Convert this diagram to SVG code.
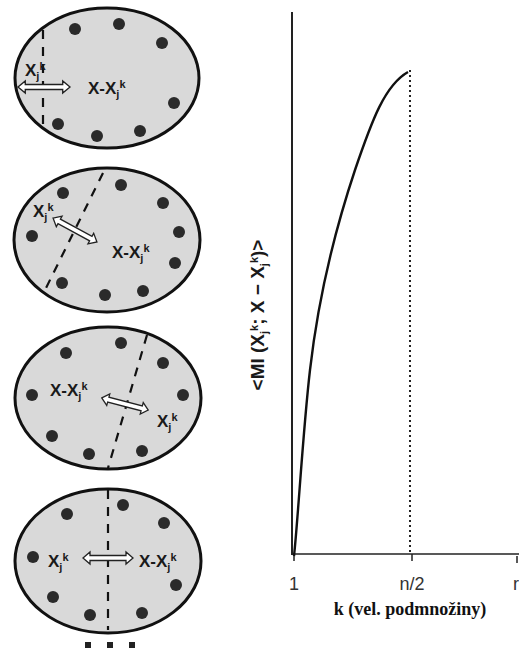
<svg xmlns="http://www.w3.org/2000/svg" width="519" height="654" viewBox="0 0 519 654">
<style>
.set{fill:#d9d9d9;stroke:#111;stroke-width:3}
.dot{fill:#2a2a2a}
.cut{fill:none;stroke:#111;stroke-width:2.2;stroke-dasharray:9,8}
.arr{fill:#fff;stroke:#222;stroke-width:1.3;stroke-linejoin:miter}
.lbl{font-family:"Liberation Sans",Arial,sans-serif;font-size:17px;font-weight:bold;fill:#1a1a1a}
.sm{font-size:11px;fill:#1a1a1a}
.axis{stroke:#222;fill:none}
.tick{font-family:"Liberation Sans",Arial,sans-serif;font-size:18px;fill:#333}
.xl{font-family:"Liberation Serif","Times New Roman",serif;font-size:18px;font-weight:bold;fill:#111}
.yl{font-family:"Liberation Sans",Arial,sans-serif;font-size:19px;font-weight:bold;fill:#1a1a1a}
</style>
<defs>
<path id="darr" d="M-25,0 L-18,-6 L-18,-2.5 L18,-2.5 L18,-6 L25,0 L18,6 L18,2.5 L-18,2.5 L-18,6 Z"/>
</defs>
<rect width="519" height="654" fill="#fff"/>

<g id="set1">
<ellipse class="set" cx="107" cy="78" rx="92" ry="70"/>
<circle class="dot" cx="75" cy="29" r="6"/>
<circle class="dot" cx="119" cy="24" r="6"/>
<circle class="dot" cx="162" cy="43" r="6"/>
<circle class="dot" cx="174" cy="103" r="6"/>
<circle class="dot" cx="140" cy="131" r="6"/>
<circle class="dot" cx="97" cy="136" r="6"/>
<circle class="dot" cx="58" cy="124" r="6"/>
<line class="cut" x1="43" y1="30" x2="43" y2="125"/>
<use href="#darr" class="arr" transform="translate(44,87) scale(1.04,1)"/>
<text class="lbl" x="25" y="76">X<tspan class="sm" dy="4">j</tspan><tspan class="sm" dy="-10">k</tspan></text>
<text class="lbl" x="88" y="94">X-X<tspan class="sm" dy="4">j</tspan><tspan class="sm" dy="-10">k</tspan></text>
</g>

<g id="set2">
<ellipse class="set" cx="107" cy="240" rx="93" ry="72"/>
<circle class="dot" cx="63" cy="193" r="6"/>
<circle class="dot" cx="121" cy="185" r="6"/>
<circle class="dot" cx="163" cy="203" r="6"/>
<circle class="dot" cx="179" cy="232" r="6"/>
<circle class="dot" cx="175" cy="263" r="6"/>
<circle class="dot" cx="143" cy="291" r="6"/>
<circle class="dot" cx="105" cy="295" r="6"/>
<circle class="dot" cx="62" cy="283" r="6"/>
<circle class="dot" cx="32" cy="236" r="6"/>
<line class="cut" x1="103" y1="173" x2="45" y2="290"/>
<use href="#darr" class="arr" transform="translate(75,230) rotate(28.6)"/>
<text class="lbl" x="33" y="217">X<tspan class="sm" dy="4">j</tspan><tspan class="sm" dy="-10">k</tspan></text>
<text class="lbl" x="112" y="258">X-X<tspan class="sm" dy="4">j</tspan><tspan class="sm" dy="-10">k</tspan></text>
</g>

<g id="set3">
<ellipse class="set" cx="108" cy="398" rx="93" ry="71"/>
<circle class="dot" cx="66" cy="353" r="6"/>
<circle class="dot" cx="121" cy="343" r="6"/>
<circle class="dot" cx="163" cy="363" r="6"/>
<circle class="dot" cx="183" cy="395" r="6"/>
<circle class="dot" cx="142" cy="451" r="6"/>
<circle class="dot" cx="89" cy="454" r="6"/>
<circle class="dot" cx="52" cy="436" r="6"/>
<circle class="dot" cx="32" cy="395" r="6"/>
<line class="cut" x1="147" y1="335" x2="108" y2="468"/>
<use href="#darr" class="arr" transform="translate(125,404) rotate(14.6) scale(0.96,1)"/>
<text class="lbl" x="50" y="396">X-X<tspan class="sm" dy="4">j</tspan><tspan class="sm" dy="-10">k</tspan></text>
<text class="lbl" x="157" y="427">X<tspan class="sm" dy="4">j</tspan><tspan class="sm" dy="-10">k</tspan></text>
</g>

<g id="set4">
<ellipse class="set" cx="108" cy="561" rx="93" ry="72"/>
<circle class="dot" cx="67" cy="514" r="6"/>
<circle class="dot" cx="123" cy="505" r="6"/>
<circle class="dot" cx="164" cy="523" r="6"/>
<circle class="dot" cx="176" cy="585" r="6"/>
<circle class="dot" cx="142" cy="613" r="6"/>
<circle class="dot" cx="90" cy="615" r="6"/>
<circle class="dot" cx="53" cy="597" r="6"/>
<circle class="dot" cx="33" cy="557" r="6"/>
<line class="cut" x1="108" y1="490" x2="108" y2="630"/>
<use href="#darr" class="arr" transform="translate(108,558)"/>
<text class="lbl" x="48" y="567">X<tspan class="sm" dy="4">j</tspan><tspan class="sm" dy="-10">k</tspan></text>
<text class="lbl" x="139" y="567">X-X<tspan class="sm" dy="4">j</tspan><tspan class="sm" dy="-10">k</tspan></text>
</g>

<g id="ellipsis">
<rect x="85" y="642" width="6" height="6" fill="#222"/>
<rect x="107" y="642" width="6" height="6" fill="#222"/>
<rect x="129" y="642" width="6" height="6" fill="#222"/>
</g>

<g id="chart">
<line class="axis" x1="292" y1="12" x2="292" y2="555" stroke-width="2"/>
<line class="axis" x1="291" y1="554" x2="519" y2="554" stroke-width="1.6"/>
<line class="axis" x1="294" y1="554" x2="294" y2="561" stroke-width="1.5"/>
<line class="axis" x1="412" y1="554" x2="412" y2="561" stroke-width="1.5"/>
<line class="axis" x1="517" y1="556" x2="517" y2="563" stroke-width="1.5"/>
<line x1="410" y1="70" x2="410" y2="554" stroke="#222" stroke-width="2" stroke-dasharray="2,3"/>
<path d="M294,556 C298,520 303,430 310,370 C318,300 335,230 355,170 C372,120 385,85 408,72" fill="none" stroke="#111" stroke-width="2.4"/>
<text class="tick" x="294" y="590" text-anchor="middle">1</text>
<text class="tick" x="412" y="590" text-anchor="middle">n/2</text>
<text class="tick" x="513" y="590">r</text>
<text class="xl" x="410" y="615" text-anchor="middle">k (vel. podmnožiny)</text>
<text class="yl" transform="translate(264,315) rotate(-90)" text-anchor="middle">&lt;MI (X<tspan class="sm" dy="4">j</tspan><tspan class="sm" dy="-10">k</tspan><tspan dy="6">; X − X</tspan><tspan class="sm" dy="4">j</tspan><tspan class="sm" dy="-10">k</tspan><tspan dy="6">)&gt;</tspan></text>
</g>
</svg>
